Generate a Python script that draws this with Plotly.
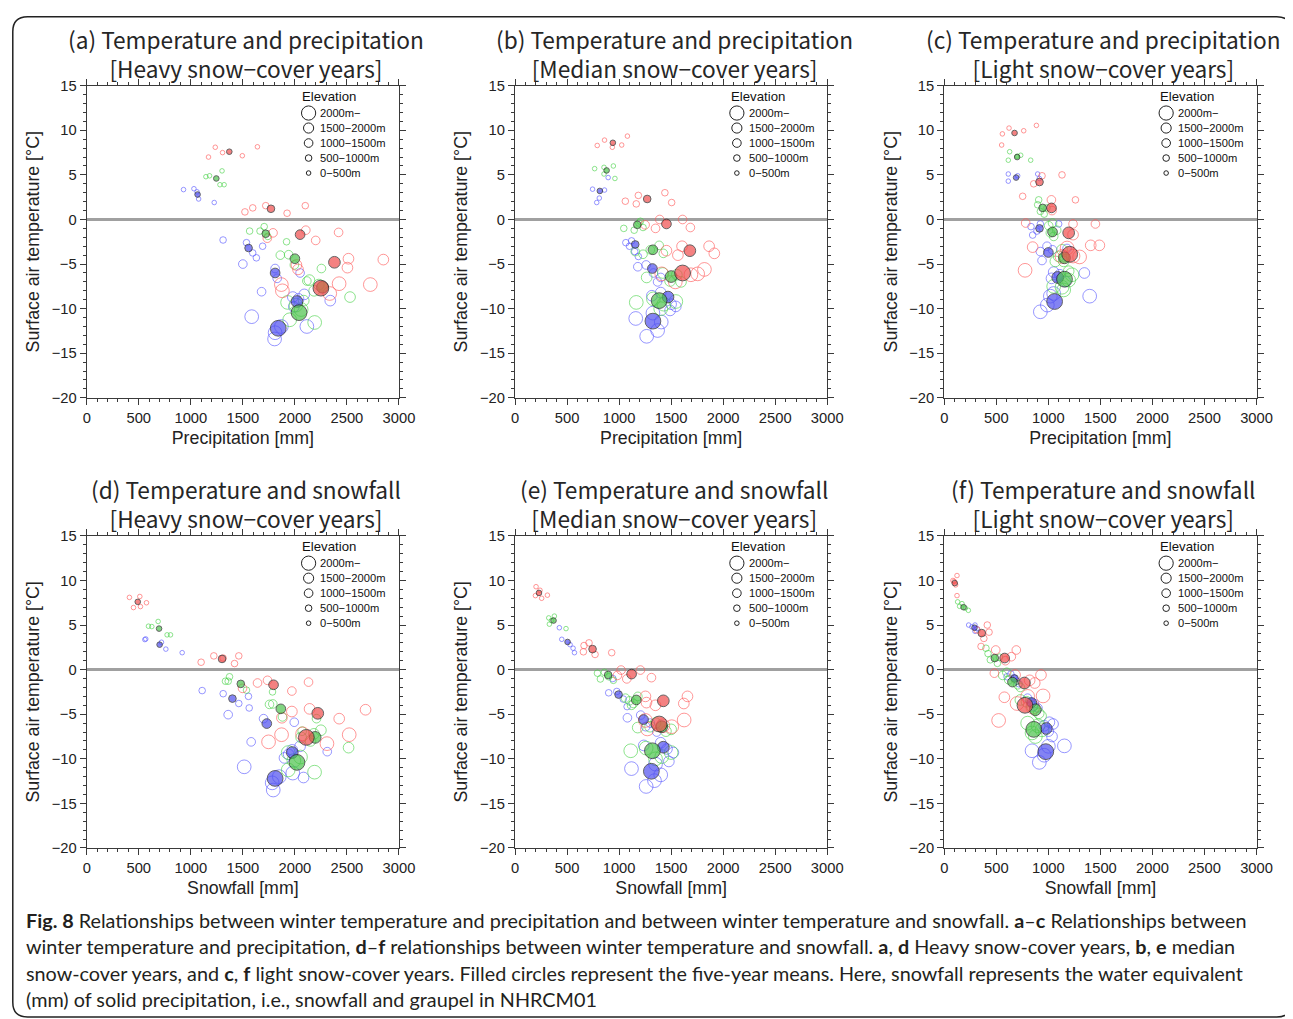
import plotly.graph_objects as go

# The photographed page maps figure pixels f to picture pixels p as p = S*f + O.
# Layout below is written in picture (reference) pixels and converted.
S = 0.984
OX, OY = 12.3, 16.3
W, H = 1302, 1020
FS = 1 / S  # font / size compensation

# ---------------- data ----------------
X_TICKS = [0, 500, 1000, 1500, 2000, 2500, 3000]
Y_TICKS = [-20, -15, -10, -5, 0, 5, 10, 15]

ELEV_LABELS = ["2000m−", "1500−2000m", "1000−1500m", "500−1000m", "0−500m"]
ELEV_LEGEND_SIZES = [14, 10, 8.5, 6.5, 4.5]

# elevation class of each yearly point (0: 0-500m ... 4: 2000m-)
YEAR_CLASS = [0, 0, 0, 0, 0, 1, 1, 1, 1, 1, 2, 2, 2, 2, 2, 3, 3, 3, 3, 3, 4, 4, 4, 4, 4]
MEAN_CLASS = [0, 1, 2, 3, 4]
OPEN_SIZES = [4.5, 6.5, 8.5, 10.5, 13.5]
MEAN_SIZES = [5.5, 7.5, 9.5, 11.5, 15.5]

PANEL_TITLES = [
    "(a) Temperature and precipitation<br>[Heavy snow−cover years]",
    "(b) Temperature and precipitation<br>[Median snow−cover years]",
    "(c) Temperature and precipitation<br>[Light snow−cover years]",
    "(d) Temperature and snowfall<br>[Heavy snow−cover years]",
    "(e) Temperature and snowfall<br>[Median snow−cover years]",
    "(f) Temperature and snowfall<br>[Light snow−cover years]",
]
X_TITLES = ["Precipitation [mm]"] * 3 + ["Snowfall [mm]"] * 3
Y_TITLE = "Surface air temperature [°C]"

# ---- panel (a)
A_RED_X = [1235, 1170, 1305, 1495, 1640, 1520, 1595, 1720, 1925, 2100, 1790, 1735, 2105, 2200, 2420, 2015, 2515, 2505, 2850, 2030, 1870, 1880, 2425, 2725, 2335]
A_RED_Y = [8.1, 7.0, 7.5, 7.15, 8.15, 0.85, 1.3, 1.55, 0.7, 1.55, -1.5, -2.1, -1.2, -2.35, -1.45, -5.1, -4.4, -5.4, -4.5, -5.6, -7.3, -8.0, -7.2, -7.3, -8.3]
A_RED_MEAN_X = [1370, 1770, 2050, 2380, 2250]
A_RED_MEAN_Y = [7.6, 1.2, -1.7, -4.8, -7.7]
A_GREEN_X = [1145, 1180, 1300, 1280, 1320, 1565, 1665, 1705, 1920, 1740, 1860, 1940, 1995, 2255, 2115, 2185, 2530, 2230, 2085, 2140, 1930, 1950, 2190, 2060, 2010]
A_GREEN_Y = [4.8, 4.9, 5.45, 3.9, 3.9, -1.3, -1.3, -0.8, -2.5, -1.9, -4.0, -3.95, -5.1, -5.5, -6.9, -8.0, -8.7, -7.3, -9.1, -6.8, -9.3, -11.25, -11.55, -10.1, -9.6]
A_GREEN_MEAN_X = [1245, 1720, 2000, 2265, 2040]
A_GREEN_MEAN_Y = [4.6, -1.6, -4.4, -7.6, -10.45]
A_BLUE_X = [930, 1030, 1075, 1225, 1060, 1310, 1535, 1595, 1630, 1690, 1500, 1810, 2050, 1830, 1680, 2035, 2340, 2090, 1990, 1980, 1585, 1805, 1810, 2115, 1870]
A_BLUE_Y = [3.35, 3.45, 2.3, 1.9, 3.1, -2.3, -2.6, -3.75, -4.3, -3.0, -5.0, -5.5, -6.0, -6.6, -8.1, -8.9, -9.1, -8.4, -9.8, -8.7, -10.9, -13.4, -12.7, -12.0, -12.0]
A_BLUE_MEAN_X = [1065, 1555, 1810, 2020, 1840]
A_BLUE_MEAN_Y = [2.8, -3.2, -6.0, -9.2, -12.2]

# ---- panel (b)
B_RED_X = [790, 860, 935, 1025, 1080, 1060, 1185, 1165, 1440, 1505, 1250, 1350, 1390, 1610, 1685, 1455, 1565, 1605, 1865, 1915, 1410, 1540, 1755, 1820, 1690]
B_RED_Y = [8.3, 8.9, 8.1, 8.35, 9.35, 2.05, 2.7, 1.75, 3.0, 1.9, -0.6, -1.0, 0.0, 0.0, -0.9, -3.5, -4.0, -3.0, -3.0, -3.8, -6.1, -7.0, -6.1, -5.6, -6.2]
B_RED_MEAN_X = [940, 1270, 1455, 1680, 1610]
B_RED_MEAN_Y = [8.6, 2.3, -0.5, -3.5, -6.0]
B_GREEN_X = [765, 855, 945, 960, 855, 1045, 1205, 1230, 1190, 1145, 1300, 1385, 1425, 1155, 1230, 1265, 1490, 1555, 1420, 1595, 1165, 1430, 1545, 1400, 1330]
B_GREEN_Y = [5.7, 5.85, 6.0, 4.6, 5.1, -1.0, -0.2, -0.9, -0.4, -1.2, -3.4, -2.9, -3.8, -3.6, -3.9, -6.5, -6.9, -6.2, -6.0, -7.0, -9.3, -9.5, -9.2, -10.0, -8.9]
B_GREEN_MEAN_X = [880, 1175, 1325, 1500, 1385]
B_GREEN_MEAN_Y = [5.5, -0.6, -3.4, -6.4, -9.1]
B_BLUE_X = [745, 860, 895, 810, 785, 1065, 1120, 1185, 1150, 1100, 1180, 1260, 1370, 1400, 1330, 1315, 1400, 1490, 1545, 1500, 1160, 1370, 1265, 1325, 1405]
B_BLUE_Y = [3.4, 3.3, 4.7, 2.4, 1.9, -2.6, -2.4, -4.15, -3.6, -3.0, -5.3, -5.1, -7.0, -6.5, -6.0, -8.55, -8.2, -10.2, -9.75, -9.5, -11.1, -12.45, -13.1, -10.5, -11.5]
B_BLUE_MEAN_X = [815, 1155, 1320, 1470, 1325]
B_BLUE_MEAN_Y = [3.2, -2.8, -5.5, -8.7, -11.4]

# ---- panel (c)
C_RED_X = [558, 622, 763, 885, 551, 859, 939, 1131, 753, 1260, 1029, 782, 1237, 1452, 1035, 849, 1237, 1407, 1490, 1147, 776, 1131, 1237, 1180, 1300]
C_RED_Y = [9.6, 10.25, 9.95, 10.55, 8.35, 4.0, 4.9, 5.0, 2.6, 2.2, 2.2, -0.4, -0.5, -0.5, 1.0, -3.1, -1.7, -2.9, -2.9, -4.1, -5.7, -4.15, -4.1, -3.2, -4.2]
C_RED_MEAN_X = [675, 915, 1030, 1195, 1205]
C_RED_MEAN_Y = [9.7, 4.2, 1.3, -1.5, -3.9]
C_GREEN_X = [628, 615, 734, 830, 700, 907, 923, 987, 897, 960, 1003, 1051, 1019, 1080, 1040, 1131, 1099, 1147, 1195, 1067, 1051, 1131, 1227, 1195, 1147]
C_GREEN_Y = [7.6, 6.65, 7.2, 6.65, 7.1, 2.2, 0.9, 1.3, 1.65, 0.6, -0.7, -1.9, -1.5, -1.2, -0.4, -3.4, -4.15, -4.7, -5.8, -4.7, -7.5, -7.6, -6.2, -6.8, -7.9]
C_GREEN_MEAN_X = [700, 945, 1040, 1155, 1155]
C_GREEN_MEAN_Y = [7.0, 1.3, -1.4, -4.3, -6.7]
C_BLUE_X = [615, 615, 705, 897, 913, 833, 849, 923, 1099, 890, 923, 939, 987, 1179, 1040, 1051, 1346, 1163, 1030, 1110, 923, 1019, 1397, 990, 1051]
C_BLUE_Y = [5.1, 4.3, 4.9, 5.1, 4.6, -0.8, -1.75, -0.5, -0.5, -1.3, -3.6, -4.6, -3.0, -3.25, -3.4, -5.9, -6.0, -6.95, -6.6, -6.2, -10.35, -8.6, -8.6, -9.6, -8.3]
C_BLUE_MEAN_X = [690, 915, 1000, 1090, 1060]
C_BLUE_MEAN_Y = [4.7, -1.0, -3.7, -6.5, -9.2]

# ---- panel (d)
D_RED_X = [410, 510, 574, 449, 516, 1099, 1221, 1420, 1461, 1310, 1497, 1641, 1737, 1971, 2131, 1875, 1971, 2141, 2426, 2679, 1747, 1872, 2074, 2308, 2522]
D_RED_Y = [8.1, 8.2, 7.5, 6.96, 7.07, 0.83, 1.54, 0.68, 1.54, 1.3, -2.1, -1.5, -1.2, -2.4, -1.4, -5.4, -4.7, -4.4, -5.5, -4.5, -8.1, -7.3, -7.2, -8.3, -7.3]
D_RED_MEAN_X = [490, 1300, 1795, 2220, 2110]
D_RED_MEAN_Y = [7.6, 1.2, -1.7, -4.9, -7.6]
D_GREEN_X = [593, 625, 686, 772, 805, 1333, 1372, 1359, 1535, 1785, 1756, 1788, 1881, 2208, 2070, 2183, 2516, 2060, 2150, 2250, 1936, 1936, 2189, 2054, 1990]
D_GREEN_Y = [4.87, 4.83, 5.4, 3.9, 3.9, -1.3, -0.8, -1.3, -2.3, -2.5, -3.9, -3.85, -5.3, -5.5, -6.9, -7.2, -8.75, -7.6, -8.0, -6.8, -9.3, -11.25, -11.5, -9.8, -10.2]
D_GREEN_MEAN_X = [695, 1480, 1865, 2195, 2020]
D_GREEN_MEAN_Y = [4.6, -1.6, -4.4, -7.6, -10.4]
D_BLUE_X = [558, 567, 718, 760, 917, 1109, 1311, 1461, 1554, 1561, 1359, 1699, 1994, 1580, 2311, 1974, 2083, 1940, 2050, 1900, 1513, 1792, 1782, 1850, 1980]
D_BLUE_Y = [3.37, 3.44, 3.07, 2.3, 1.9, -2.35, -2.7, -3.8, -3.0, -4.3, -5.05, -5.5, -5.9, -8.1, -9.2, -9.0, -12.1, -9.5, -8.6, -9.9, -10.9, -13.5, -12.7, -12.0, -11.6]
D_BLUE_MEAN_X = [700, 1400, 1730, 1975, 1810]
D_BLUE_MEAN_Y = [2.8, -3.25, -6.05, -9.3, -12.2]

# ---- panel (e)
E_RED_X = [202, 196, 256, 311, 240, 663, 711, 657, 769, 929, 984, 1019, 1074, 1205, 1311, 1253, 1263, 1349, 1657, 1622, 1253, 1272, 1506, 1625, 1420]
E_RED_Y = [9.3, 8.3, 8.0, 8.35, 8.9, 2.7, 3.0, 2.0, 1.7, 1.9, -0.65, -0.05, -1.04, -0.05, -0.9, -3.0, -3.7, -4.0, -3.0, -3.8, -5.7, -6.65, -6.4, -5.65, -6.3]
E_RED_MEAN_X = [230, 745, 1120, 1425, 1385]
E_RED_MEAN_Y = [8.6, 2.3, -0.5, -3.5, -6.1]
E_GREEN_X = [324, 378, 330, 490, 350, 792, 820, 859, 945, 900, 1061, 1138, 1100, 1180, 1120, 1179, 1500, 1298, 1450, 1350, 1112, 1500, 1410, 1260, 1350]
E_GREEN_Y = [5.8, 6.0, 5.1, 4.6, 5.5, -0.4, -1.05, -0.3, -1.2, -0.8, -3.2, -3.8, -3.5, -3.0, -4.0, -6.5, -6.7, -6.4, -6.9, -6.0, -9.1, -9.3, -9.75, -8.8, -10.0]
E_GREEN_MEAN_X = [370, 895, 1165, 1410, 1320]
E_GREEN_MEAN_Y = [5.5, -0.6, -3.4, -6.4, -9.1]
E_BLUE_X = [426, 449, 558, 571, 529, 900, 978, 1077, 939, 1040, 1080, 1208, 1256, 1362, 1300, 1237, 1522, 1478, 1400, 1460, 1119, 1340, 1260, 1350, 1400]
E_BLUE_Y = [4.7, 3.4, 2.4, 1.9, 2.8, -2.6, -2.45, -4.15, -1.0, -3.3, -5.4, -5.1, -6.4, -7.0, -6.0, -8.5, -9.3, -10.3, -8.2, -8.9, -11.1, -12.45, -13.1, -10.6, -11.8]
E_BLUE_MEAN_X = [505, 995, 1235, 1425, 1310]
E_BLUE_MEAN_Y = [3.1, -2.8, -5.6, -8.7, -11.4]

# ---- panel (f)
F_RED_X = [122, 83, 109, 122, 95, 413, 353, 314, 430, 380, 494, 692, 587, 644, 481, 680, 929, 869, 577, 820, 522, 949, 801, 850, 699]
F_RED_Y = [10.55, 10.0, 9.5, 8.3, 9.9, 5.0, 2.6, 4.45, 4.2, 3.5, 2.2, 2.2, 1.0, 1.45, -0.4, -0.6, -0.6, -1.5, -3.1, -1.2, -5.7, -2.95, -3.0, -4.2, -3.8]
F_RED_MEAN_X = [100, 360, 580, 770, 775]
F_RED_MEAN_Y = [9.7, 4.1, 1.3, -1.5, -4.0]
F_GREEN_X = [128, 147, 231, 202, 170, 400, 442, 510, 420, 530, 561, 619, 705, 600, 730, 731, 843, 907, 790, 930, 801, 843, 939, 875, 900]
F_GREEN_Y = [7.6, 7.1, 6.65, 6.9, 7.4, 2.4, 1.1, 0.7, 1.8, 1.4, -0.65, -1.15, -1.7, -0.3, -2.0, -3.4, -4.15, -4.9, -3.6, -5.2, -6.0, -7.1, -6.75, -7.5, -6.3]
F_GREEN_MEAN_X = [185, 485, 655, 875, 860]
F_GREEN_MEAN_Y = [7.0, 1.3, -1.4, -4.5, -6.7]
F_BLUE_X = [234, 295, 295, 265, 315, 603, 667, 640, 700, 720, 827, 866, 800, 900, 860, 1045, 1035, 1000, 960, 1010, 843, 913, 1154, 960, 1000]
F_BLUE_Y = [5.0, 5.0, 4.3, 4.8, 4.6, -0.8, -0.9, -0.5, -1.3, -1.6, -3.6, -3.8, -3.2, -4.3, -4.1, -6.1, -7.5, -6.9, -6.3, -5.9, -9.1, -10.4, -8.55, -9.6, -8.6]
F_BLUE_MEAN_X = [290, 675, 840, 980, 975]
F_BLUE_MEAN_Y = [4.7, -1.0, -3.7, -6.6, -9.2]

CAPTION_LINES = [
    "<b>Fig. 8</b> Relationships between winter temperature and precipitation and between winter temperature and snowfall. <b>a</b>–<b>c</b> Relationships between",
    "winter temperature and precipitation, <b>d</b>–<b>f</b> relationships between winter temperature and snowfall. <b>a</b>, <b>d</b> Heavy snow-cover years, <b>b</b>, <b>e</b> median",
    "snow-cover years, and <b>c</b>, <b>f</b> light snow-cover years. Filled circles represent the five-year means. Here, snowfall represents the water equivalent",
    "(mm) of solid precipitation, i.e., snowfall and graupel in NHRCM01",
]

# ---------------- assemble ----------------
PANELS = [
    {"blue": (A_BLUE_X, A_BLUE_Y, A_BLUE_MEAN_X, A_BLUE_MEAN_Y), "green": (A_GREEN_X, A_GREEN_Y, A_GREEN_MEAN_X, A_GREEN_MEAN_Y), "red": (A_RED_X, A_RED_Y, A_RED_MEAN_X, A_RED_MEAN_Y)},
    {"blue": (B_BLUE_X, B_BLUE_Y, B_BLUE_MEAN_X, B_BLUE_MEAN_Y), "green": (B_GREEN_X, B_GREEN_Y, B_GREEN_MEAN_X, B_GREEN_MEAN_Y), "red": (B_RED_X, B_RED_Y, B_RED_MEAN_X, B_RED_MEAN_Y)},
    {"blue": (C_BLUE_X, C_BLUE_Y, C_BLUE_MEAN_X, C_BLUE_MEAN_Y), "green": (C_GREEN_X, C_GREEN_Y, C_GREEN_MEAN_X, C_GREEN_MEAN_Y), "red": (C_RED_X, C_RED_Y, C_RED_MEAN_X, C_RED_MEAN_Y)},
    {"blue": (D_BLUE_X, D_BLUE_Y, D_BLUE_MEAN_X, D_BLUE_MEAN_Y), "green": (D_GREEN_X, D_GREEN_Y, D_GREEN_MEAN_X, D_GREEN_MEAN_Y), "red": (D_RED_X, D_RED_Y, D_RED_MEAN_X, D_RED_MEAN_Y)},
    {"blue": (E_BLUE_X, E_BLUE_Y, E_BLUE_MEAN_X, E_BLUE_MEAN_Y), "green": (E_GREEN_X, E_GREEN_Y, E_GREEN_MEAN_X, E_GREEN_MEAN_Y), "red": (E_RED_X, E_RED_Y, E_RED_MEAN_X, E_RED_MEAN_Y)},
    {"blue": (F_BLUE_X, F_BLUE_Y, F_BLUE_MEAN_X, F_BLUE_MEAN_Y), "green": (F_GREEN_X, F_GREEN_Y, F_GREEN_MEAN_X, F_GREEN_MEAN_Y), "red": (F_RED_X, F_RED_Y, F_RED_MEAN_X, F_RED_MEAN_Y)},
]

OPEN_COLORS = {"blue": "rgba(90,90,255,0.9)", "green": "rgba(75,210,75,0.9)", "red": "rgba(255,90,90,0.9)"}
FILL_COLORS = {"blue": "#5050EE", "green": "#4CC24C", "red": "#F04C4C"}

# pixel layout, in picture (reference) pixels
PLOT_LEFT = [87, 515, 944]
PLOT_TOP = [86, 536]
PLOT_W = 312
PLOT_H = 312


def fx(x):
    return (x - OX) / S


def fy(y):
    return (y - OY) / S


def px(x):
    return fx(x) / W


def py(y):
    return 1 - fy(y) / H


AX_FONT = "Liberation Sans, Arial, Helvetica, sans-serif"
TITLE_FONT = "Noto Sans CJK JP, Noto Sans, sans-serif"
CAP_FONT = "Lato, Open Sans, sans-serif"
AXIS_COLOR = "#3a3a3a"

fig = go.Figure()
layout = dict(
    width=W, height=H, margin=dict(l=0, r=0, t=0, b=0), autosize=False,
    paper_bgcolor="white", plot_bgcolor="white", showlegend=False,
)
annotations = []
shapes = []

for i, panel in enumerate(PANELS):
    row, col = divmod(i, 3)
    n = "" if i == 0 else str(i + 1)
    xa, ya = "x" + n, "y" + n
    left = PLOT_LEFT[col]
    top = PLOT_TOP[row]
    common = dict(
        showline=True, linecolor=AXIS_COLOR, linewidth=1.3, mirror="ticks",
        ticks="outside", ticklen=6, tickwidth=1, tickcolor=AXIS_COLOR,
        showgrid=False, tickfont=dict(family=AX_FONT, size=14.5 * FS, color="#222"),
        fixedrange=True,
    )
    layout["xaxis" + n] = dict(
        common, domain=[px(left), px(left + PLOT_W)], anchor=ya, range=[0, 3000],
        tickvals=X_TICKS, zeroline=False,
        minor=dict(ticks="outside", ticklen=3, tickwidth=1, tickcolor=AXIS_COLOR, dtick=100, showgrid=False),
        title=dict(text=X_TITLES[i], font=dict(family=AX_FONT, size=17.5 * FS, color="#222"), standoff=6),
    )
    layout["yaxis" + n] = dict(
        common, domain=[py(top + PLOT_H), py(top)], anchor=xa, range=[-20, 15],
        tickvals=Y_TICKS, zeroline=True, zerolinecolor="#a0a0a0", zerolinewidth=3,
        minor=dict(ticks="outside", ticklen=3, tickwidth=1, tickcolor=AXIS_COLOR, dtick=1, showgrid=False),
        title=dict(text=Y_TITLE, font=dict(family=AX_FONT, size=17.5 * FS, color="#222"), standoff=7),
    )

    # open circles (individual years)
    for color in ["blue", "green", "red"]:
        xs, ys, mx, my = panel[color]
        fig.add_trace(go.Scatter(
            x=xs, y=ys, mode="markers", xaxis=xa, yaxis=ya, hoverinfo="x+y",
            marker=dict(symbol="circle-open", size=[OPEN_SIZES[c] * FS for c in YEAR_CLASS],
                        color=OPEN_COLORS[color], line=dict(width=1)),
        ))
    # filled circles (five-year means)
    for color in ["blue", "green", "red"]:
        xs, ys, mx, my = panel[color]
        fig.add_trace(go.Scatter(
            x=mx, y=my, mode="markers", xaxis=xa, yaxis=ya, hoverinfo="x+y",
            marker=dict(symbol="circle", size=[MEAN_SIZES[c] * FS for c in MEAN_CLASS],
                        color=FILL_COLORS[color], line=dict(width=1, color="#222")),
        ))

    # panel title (two lines in one text)
    annotations.append(dict(
        text=PANEL_TITLES[i], x=px(left + PLOT_W / 2 + 3), y=py(top - 31.5), xref="paper", yref="paper",
        xanchor="center", yanchor="middle", showarrow=False, align="center",
        font=dict(family=TITLE_FONT, size=22.3 * FS, color="#262626"),
    ))

    # elevation legend (decoration)
    annotations.append(dict(
        text="Elevation", x=px(left + 213.5), y=py(top + 10.5), xref="paper", yref="paper",
        xanchor="left", yanchor="middle", showarrow=False,
        font=dict(family=AX_FONT, size=13 * FS, color="#111"),
    ))
    for k, (lab, d) in enumerate(zip(ELEV_LABELS, ELEV_LEGEND_SIZES)):
        cy = top + 27.3 + 15 * k
        rr = d * FS / 2
        shapes.append(dict(
            type="circle", xref="paper", yref="paper", xsizemode="pixel", ysizemode="pixel",
            xanchor=px(left + 221.7), yanchor=py(cy), x0=-rr, x1=rr, y0=-rr, y1=rr,
            line=dict(color="#222", width=1), fillcolor="rgba(0,0,0,0)",
        ))
        annotations.append(dict(
            text=lab, x=px(left + 231.5), y=py(cy), xref="paper", yref="paper",
            xanchor="left", yanchor="middle", showarrow=False,
            font=dict(family=AX_FONT, size=11 * FS, color="#111"),
        ))

# caption
for j, line in enumerate(CAPTION_LINES):
    annotations.append(dict(
        text=line, x=px(24), y=py(920 + 26.4 * j), xref="paper", yref="paper",
        xanchor="left", yanchor="middle", showarrow=False, align="left",
        font=dict(family=CAP_FONT, size=19.5 * FS, color="#231f20"),
    ))

# rounded frame (figure pixel coordinates, clamped to the figure)
fL = max(0.8, fx(10.5))
fT = max(0.8, fy(10.5))
fR = min(W - 0.8, fx(1291))
fB = min(H - 0.8, fy(1017))
r = 15


def P(x, y):
    return f"{x / W},{1 - y / H}"


frame = (f"M {P(fL, fB - r)} L {P(fL, fT + r)} Q {P(fL, fT)} {P(fL + r, fT)} "
         f"L {P(fR - r, fT)} Q {P(fR, fT)} {P(fR, fT + r)} L {P(fR, fB - r)} "
         f"Q {P(fR, fB)} {P(fR - r, fB)} L {P(fL + r, fB)} Q {P(fL, fB)} {P(fL, fB - r)}")
shapes.append(dict(type="path", xref="paper", yref="paper", path=frame,
                   line=dict(color="#222", width=1.5), layer="above"))

layout["annotations"] = annotations
layout["shapes"] = shapes
fig.update_layout(**layout)
fig.write_html("out.html")
